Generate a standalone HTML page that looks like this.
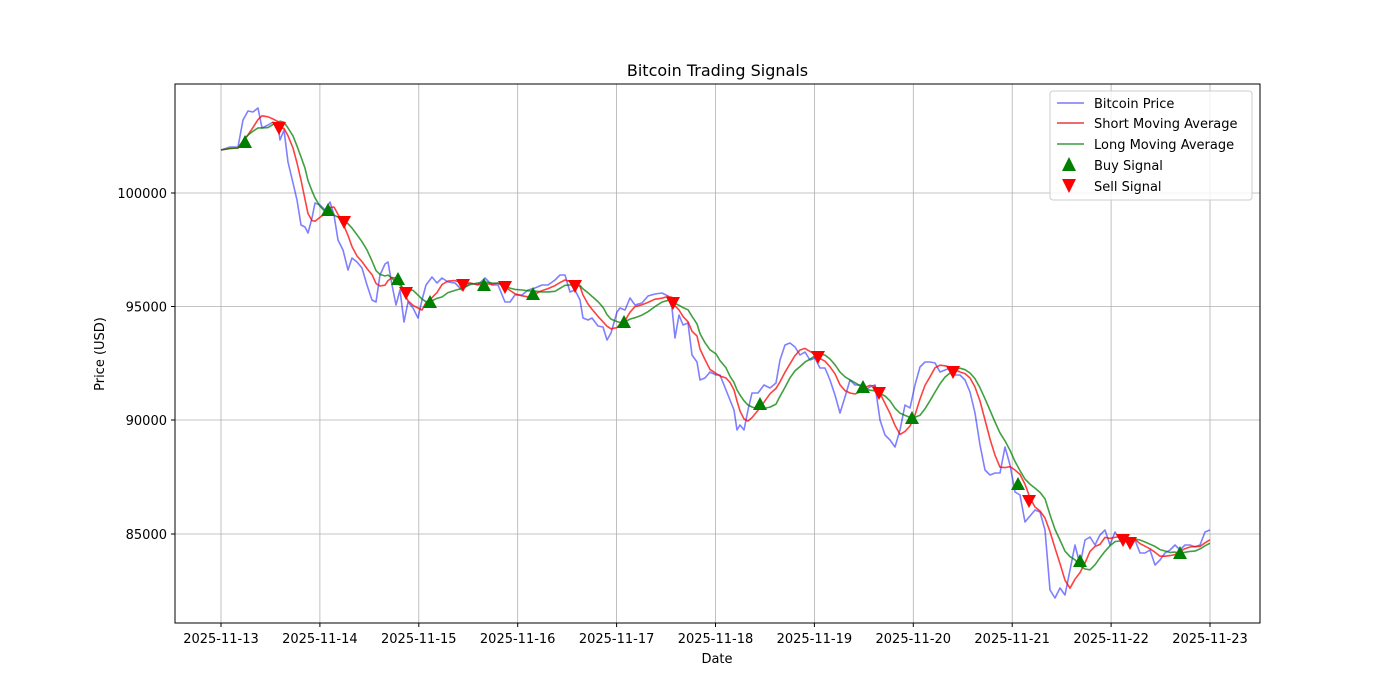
<!DOCTYPE html>
<html><head><meta charset="utf-8"><style>
body{margin:0;background:#fff;}
svg{display:block;font-family:"DejaVu Sans","Liberation Sans",sans-serif;}
</style></head><body>
<svg id="s" width="1400" height="700" xmlns="http://www.w3.org/2000/svg">
<rect width="1400" height="700" fill="#fff"/>
<g id="grid" stroke="#b0b0b0" stroke-width="0.8"></g>
<g id="plot"></g>
<rect x="175" y="84" width="1085" height="539" fill="none" stroke="#000" stroke-width="1"/>
<g id="ticks" font-size="13" fill="#000"></g>
<text x="717.5" y="76" font-size="16" text-anchor="middle">Bitcoin Trading Signals</text>
<text x="717" y="663" font-size="13" text-anchor="middle">Date</text>
<text transform="translate(104,354) rotate(-90)" font-size="13" text-anchor="middle">Price (USD)</text>
<g>
<rect x="1050" y="91" width="202" height="109" rx="3" fill="#fff" fill-opacity="0.8" stroke="#ccc"/>
<line x1="1057" y1="103" x2="1084" y2="103" stroke="#6b6bf5" stroke-width="1.5" opacity="0.9"/>
<line x1="1057" y1="123" x2="1084" y2="123" stroke="#e31a1c" stroke-width="1.5" opacity="0.85"/>
<line x1="1057" y1="144" x2="1084" y2="144" stroke="#1a8a1a" stroke-width="1.5" opacity="0.85"/>
<polygon points="1069,157 1062,171 1076,171" fill="#008000"/>
<polygon points="1069,193 1062,179 1076,179" fill="#ff0000"/>
<text x="1094" y="108" font-size="13">Bitcoin Price</text>
<text x="1094" y="128" font-size="13">Short Moving Average</text>
<text x="1094" y="149" font-size="13">Long Moving Average</text>
<text x="1094" y="170" font-size="13">Buy Signal</text>
<text x="1094" y="191" font-size="13">Sell Signal</text>
</g>
</svg>
<script>
var NS="http://www.w3.org/2000/svg";
function el(p,t,a){var e=document.createElementNS(NS,t);for(var k in a)e.setAttribute(k,a[k]);p.appendChild(e);return e;}
var grid=document.getElementById('grid'),ticks=document.getElementById('ticks'),plot=document.getElementById('plot');
for(var i=0;i<=10;i++){var x=221+i*98.9;el(grid,'line',{x1:x,y1:84,x2:x,y2:623});
el(ticks,'line',{x1:x,y1:623,x2:x,y2:627,stroke:'#000'});
var t=el(ticks,'text',{x:x,y:643,'text-anchor':'middle'});t.textContent='2025-11-'+(13+i);}
var ys=[[100000,193],[95000,306.5],[90000,420],[85000,534]];
ys.forEach(function(v){el(grid,'line',{x1:175,y1:v[1],x2:1260,y2:v[1]});
el(ticks,'line',{x1:171,y1:v[1],x2:175,y2:v[1],stroke:'#000'});
var t=el(ticks,'text',{x:167,y:v[1]+5,'text-anchor':'end'});t.textContent=v[0];});
var P=[[221,150],[230,147],[238,147],[243,120],[248,111],[253,112],[258,108],[262,128],[268,125],[273,122],[278,125],[280,140],[284,130],[288,162],[293,183],[297,200],[301,225],[305,227],[308,233],[312,218],[315,203],[320,205],[325,210],[330,202],[334,215],[338,240],[343,250],[348,270],[352,258],[357,262],[362,268],[367,285],[372,300],[376,302],[380,275],[385,264],[388,262],[392,285],[396,305],[400,290],[404,322],[408,302],[413,308],[418,318],[422,300],[426,285],[432,277],[437,283],[442,278],[448,282],[455,283],[462,290],[470,283],[478,285],[485,278],[492,285],[498,285],[505,302],[510,302],[515,295],[522,295],[528,290],[535,288],[542,285],[548,285],[555,280],[560,275],[565,275],[570,292],[575,290],[580,300],[583,318],[588,320],[592,318],[598,326],[603,327],[607,340],[611,333],[617,312],[620,308],[625,310],[630,298],[635,305],[642,303],[648,296],[655,294],[662,293],[668,296],[672,308],[675,338],[679,315],[683,325],[688,323],[692,355],[697,362],[700,380],[705,378],[710,372],[716,375],[720,375],[726,390],[730,400],[734,410],[737,430],[740,425],[744,430],[748,410],[752,393],[758,393],[764,385],[770,388],[776,383],[780,360],[785,345],[790,343],[795,347],[800,355],[805,352],[810,360],[815,358],[820,368],[825,368],[830,380],[835,395],[840,413],[845,397],[850,380],[855,385],[860,385],[865,390],[870,387],[875,385],[880,420],[885,435],[890,440],[895,447],[900,430],[905,405],[910,408],[915,385],[920,367],[925,362],[930,362],[935,363],[940,372],[945,370],[950,368],[955,375],[960,375],[965,380],[970,392],[975,413],[980,445],[985,470],[990,475],[995,473],[1000,473],[1005,447],[1010,465],[1015,492],[1020,495],[1025,522],[1030,516],[1035,510],[1040,512],[1045,530],[1050,590],[1055,598],[1060,588],[1065,595],[1070,570],[1075,545],[1080,565],[1085,540],[1090,537],[1095,545],[1100,535],[1105,530],[1110,545],[1115,532],[1120,540],[1125,537],[1130,548],[1135,540],[1140,553],[1145,553],[1150,550],[1155,565],[1160,560],[1165,553],[1170,550],[1175,545],[1180,550],[1185,545],[1190,545],[1195,547],[1200,545],[1205,532],[1210,530]];
function ma(w){return P.map(function(p,i){var s=0,n=0;for(var j=Math.max(0,i-w+1);j<=i;j++){s+=P[j][1];n++;}return [p[0],s/n];});}
function pl(a,c,op){el(plot,'polyline',{points:a.map(function(p){return p[0]+','+p[1].toFixed(1)}).join(' '),fill:'none',stroke:c,'stroke-width':1.6,'stroke-opacity':op,'stroke-linejoin':'round'});}
pl(P,'#0000ff',0.5);pl(ma(5),'#ff0000',0.75);pl(ma(9),'#008000',0.75);
[[245,142],[328,210],[398,279],[430,302],[484,285],[533,294],[624,322],[760,404],[863,387],[912,418],[1018,484],[1080,561],[1180,553]].forEach(function(p){
el(plot,'polygon',{points:(p[0])+','+(p[1]-7)+' '+(p[0]-7)+','+(p[1]+6)+' '+(p[0]+7)+','+(p[1]+6),fill:'#008000'});});
[[279,128],[344,222],[406,293],[463,285],[505,287],[575,286],[673,303],[818,357],[879,393],[953,372],[1029,501],[1123,540],[1130,543]].forEach(function(p){
el(plot,'polygon',{points:(p[0])+','+(p[1]+7)+' '+(p[0]-7)+','+(p[1]-6)+' '+(p[0]+7)+','+(p[1]-6),fill:'#ff0000'});});
</script>
</body></html>
